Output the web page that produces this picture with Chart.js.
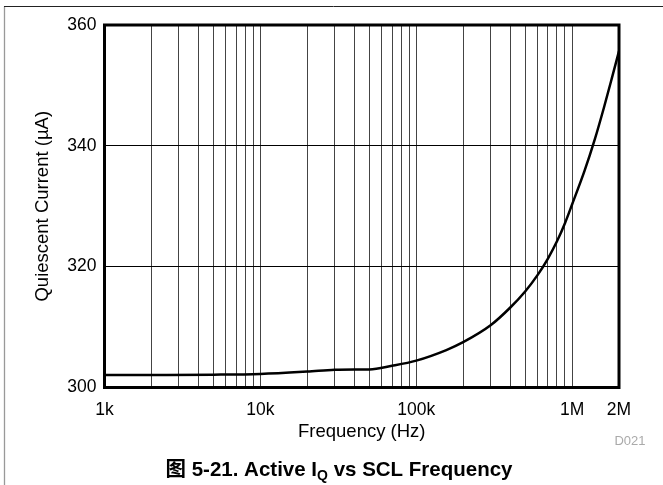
<!DOCTYPE html>
<html>
<head>
<meta charset="utf-8">
<script src="https://cdn.jsdelivr.net/npm/chart.js@4/dist/chart.umd.min.js"></script>
<style>
  html, body { margin: 0; padding: 0; background: #fff; }
  #wrap { width: 663px; height: 485px; }
</style>
</head>
<body>
<div id="wrap"><canvas id="chart" width="663" height="485"></canvas></div>
<script>
// curve: frequency (Hz) -> quiescent current (uA)
var freq = [1000, 2000, 5000, 10000, 20000, 30000, 40000, 50000, 70000, 100000, 156000,
            200000, 300000, 400000, 500000, 600000, 700000, 800000, 900000, 1000000,
            1200000, 1400000, 1600000, 1800000, 2000000];
var current = [302.05, 302.07, 302.12, 302.25, 302.65, 302.95, 303.0, 303.0, 303.6, 304.45, 306.2,
               307.5, 310.3, 313.2, 315.9, 318.6, 321.35, 324.2, 327.2, 330.3,
               335.8, 341.1, 346.3, 351.2, 355.7];

// grid lines on the log axis and the labels printed under them
var freqTicks = [1000, 2000, 3000, 4000, 5000, 6000, 7000, 8000, 9000,
                 10000, 20000, 30000, 40000, 50000, 60000, 70000, 80000, 90000,
                 100000, 200000, 300000, 400000, 500000, 600000, 700000, 800000, 900000,
                 1000000, 2000000];
var freqTickLabels = ['1k', '', '', '', '', '', '', '', '',
                      '10k', '', '', '', '', '', '', '', '',
                      '100k', '', '', '', '', '', '', '', '',
                      '1M', '2M'];
var currentTicks = [300, 320, 340, 360];

var points = freq.map(function (f, i) { return { x: f, y: current[i] }; });

// frame, plot border, footer text
var decor = {
    id: 'decor',
    afterDraw: function (chart) {
        var ctx = chart.ctx;
        var a = chart.chartArea;
        ctx.save();
        // page frame
        ctx.strokeStyle = '#999';
        ctx.lineWidth = 1.3;
        ctx.beginPath();
        ctx.moveTo(4.5, 6.5);
        ctx.lineTo(4.5, 485);
        ctx.stroke();
        ctx.strokeStyle = '#222';
        ctx.lineWidth = 1;
        ctx.beginPath();
        ctx.moveTo(4, 6.5);
        ctx.lineTo(663, 6.5);
        ctx.stroke();
        // plot border
        ctx.strokeStyle = '#000';
        ctx.lineWidth = 3;
        ctx.strokeRect(a.left, a.top, a.right - a.left, a.bottom - a.top);
        // id tag
        ctx.fillStyle = '#aaa';
        ctx.font = '13px "Liberation Sans", Arial, sans-serif';
        ctx.textAlign = 'center';
        ctx.textBaseline = 'middle';
        ctx.fillText('D021', 630, 441);
        // caption with subscript Q
        var big = 'bold 20.5px "Liberation Sans", "Noto Sans CJK SC", Arial, sans-serif';
        var small = 'bold 14px "Liberation Sans", Arial, sans-serif';
        var p1 = '图 5-21. Active I', p2 = 'Q', p3 = ' vs SCL Frequency';
        ctx.font = big; var w1 = ctx.measureText(p1).width, w3 = ctx.measureText(p3).width;
        ctx.font = small; var w2 = ctx.measureText(p2).width;
        var x = 339 - (w1 + w2 + w3) / 2, base = 476;
        ctx.fillStyle = '#000';
        ctx.textAlign = 'left';
        ctx.textBaseline = 'alphabetic';
        ctx.font = big; ctx.fillText(p1, x, base);
        ctx.font = small; ctx.fillText(p2, x + w1, base + 4);
        ctx.font = big; ctx.fillText(p3, x + w1 + w2, base);
        ctx.restore();
    }
};

new Chart(document.getElementById('chart'), {
    type: 'line',
    data: {
        datasets: [{
            data: points,
            borderColor: '#000',
            borderWidth: 2.5,
            pointRadius: 0,
            fill: false,
            cubicInterpolationMode: 'monotone'
        }]
    },
    options: {
        responsive: false,
        animation: false,
        events: [],
        layout: { padding: { left: 0, top: 25, right: 44, bottom: 37.5 } },
        plugins: { legend: { display: false }, tooltip: { enabled: false } },
        scales: {
            x: {
                type: 'logarithmic',
                min: 1000,
                max: 2000000,
                afterBuildTicks: function (scale) {
                    scale.ticks = freqTicks.map(function (v) { return { value: v }; });
                },
                afterFit: function (scale) { scale.height = 60; },
                ticks: {
                    autoSkip: false,
                    maxRotation: 0,
                    padding: 12,
                    color: '#000',
                    font: { family: '"Liberation Sans", Arial, sans-serif', size: 17.5 },
                    callback: function (value) {
                        var i = freqTicks.indexOf(value);
                        return i < 0 ? '' : freqTickLabels[i];
                    }
                },
                grid: { color: '#444', lineWidth: 1, drawTicks: false },
                border: { display: false },
                title: {
                    display: true,
                    text: 'Frequency (Hz)',
                    color: '#000',
                    padding: { top: 0, bottom: 4.7 },
                    font: { family: '"Liberation Sans", Arial, sans-serif', size: 18.5 }
                }
            },
            y: {
                min: 300,
                max: 360,
                afterBuildTicks: function (scale) {
                    scale.ticks = currentTicks.map(function (v) { return { value: v }; });
                },
                afterFit: function (scale) { scale.width = 104.5; },
                ticks: {
                    padding: 8,
                    color: '#000',
                    font: { family: '"Liberation Sans", Arial, sans-serif', size: 17.5 }
                },
                grid: { color: '#000', lineWidth: 1, drawTicks: false },
                border: { display: false },
                title: {
                    display: true,
                    text: 'Quiescent Current (µA)',
                    color: '#000',
                    padding: { top: 32, bottom: 0 },
                    font: { family: '"Liberation Sans", Arial, sans-serif', size: 18.5 }
                }
            }
        }
    },
    plugins: [decor]
});
</script>
</body>
</html>
